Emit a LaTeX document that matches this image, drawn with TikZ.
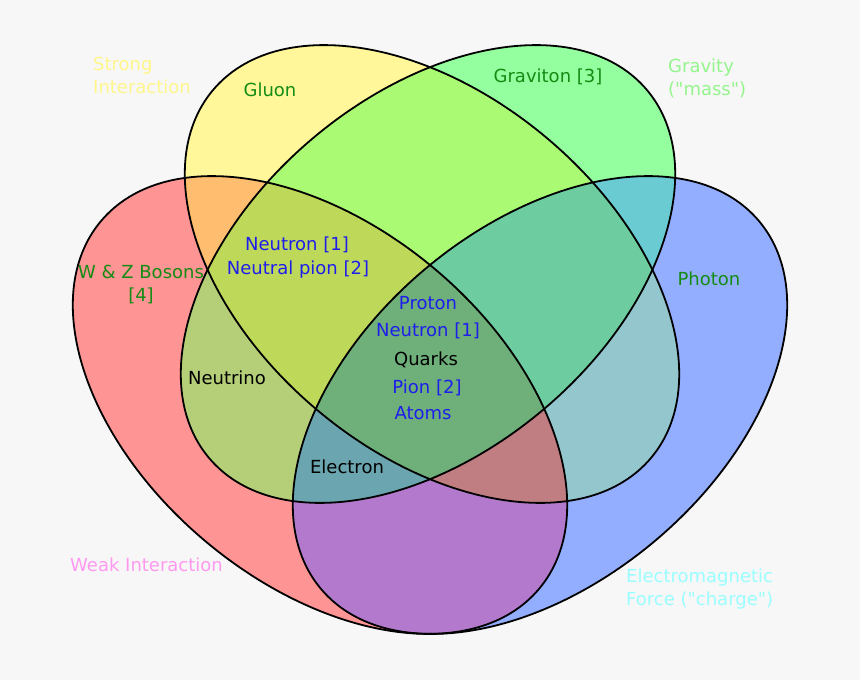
\documentclass[tikz,border=0pt]{standalone}
\usepackage{fontspec}
\setmainfont{DejaVu Sans}
\usetikzlibrary{positioning}

% region colours
\definecolor{bgcol}{HTML}{F7F7F7}
\definecolor{Scol}{HTML}{FFF799}
\definecolor{Gcol}{HTML}{94FF9E}
\definecolor{Wcol}{HTML}{FF9494}
\definecolor{Ecol}{HTML}{94AEFF}
\definecolor{SGcol}{HTML}{AAFA73}
\definecolor{SWcol}{HTML}{FFBD70}
\definecolor{SEcol}{HTML}{94C6CE}
\definecolor{GWcol}{HTML}{B5CF78}
\definecolor{GEcol}{HTML}{6ACCD2}
\definecolor{WEcol}{HTML}{B379CC}
\definecolor{SGWcol}{HTML}{BED85A}
\definecolor{SGEcol}{HTML}{6ECDA0}
\definecolor{SWEcol}{HTML}{C07D82}
\definecolor{GWEcol}{HTML}{6AA5B0}
\definecolor{SGWEcol}{HTML}{6EAF7A}
% text colours
\definecolor{bosoncol}{HTML}{148C14}
\definecolor{hadroncol}{HTML}{1E1EEB}
\definecolor{strongtxt}{HTML}{FFF68A}
\definecolor{gravtxt}{HTML}{94F58C}
\definecolor{weaktxt}{HTML}{FF99F0}
\definecolor{emtxt}{HTML}{99FFFF}

\tikzset{
  setedge/.style={draw=black, line width=1.8pt},
  member/.style={font=\fontsize{18}{23}\selectfont, inner sep=0pt},
  setname/.style={member, align=left, anchor=west},
  boson/.style={member, text=bosoncol},
  hadron/.style={member, text=hadroncol},
  lepton/.style={member, text=black},
}

% the four forces as ellipses
\newcommand{\strongset}[1]{\path[#1, rotate around={-40:(432,274)}] (432,274) ellipse [x radius=286, y radius=178];}
\newcommand{\gravset}[1]{\path[#1, rotate around={40:(428,274)}] (428,274) ellipse [x radius=286, y radius=178];}
\newcommand{\weakset}[1]{\path[#1, rotate around={-40:(320,405)}] (320,405) ellipse [x radius=286, y radius=178];}
\newcommand{\emset}[1]{\path[#1, rotate around={40:(540,405)}] (540,405) ellipse [x radius=286, y radius=178];}
\newcommand{\paint}[1]{\fill[#1] (0,0) rectangle (860,680);}

\begin{document}
\begin{tikzpicture}[x=1pt, y=-1pt]
  \fill[bgcol] (0,0) rectangle (860,680);
  \useasboundingbox (0,0) rectangle (860,680);

  % single sets
  \strongset{fill=Scol}
  \gravset{fill=Gcol}
  \weakset{fill=Wcol}
  \emset{fill=Ecol}

  % pairs
  \begin{scope} \strongset{clip} \gravset{clip} \paint{SGcol} \end{scope}
  \begin{scope} \strongset{clip} \weakset{clip} \paint{SWcol} \end{scope}
  \begin{scope} \strongset{clip} \emset{clip} \paint{SEcol} \end{scope}
  \begin{scope} \gravset{clip} \weakset{clip} \paint{GWcol} \end{scope}
  \begin{scope} \gravset{clip} \emset{clip} \paint{GEcol} \end{scope}
  \begin{scope} \weakset{clip} \emset{clip} \paint{WEcol} \end{scope}

  % triples
  \begin{scope} \strongset{clip} \gravset{clip} \weakset{clip} \paint{SGWcol} \end{scope}
  \begin{scope} \strongset{clip} \gravset{clip} \emset{clip} \paint{SGEcol} \end{scope}
  \begin{scope} \strongset{clip} \weakset{clip} \emset{clip} \paint{SWEcol} \end{scope}
  \begin{scope} \gravset{clip} \weakset{clip} \emset{clip} \paint{GWEcol} \end{scope}

  % all four
  \begin{scope} \strongset{clip} \gravset{clip} \weakset{clip} \emset{clip} \paint{SGWEcol} \end{scope}

  % outlines
  \weakset{setedge}
  \emset{setedge}
  \strongset{setedge}
  \gravset{setedge}

  % set names
  \node[setname, text=strongtxt] (strong) at (93,75) {Strong\\Interaction};
  \node[setname, text=gravtxt] (gravity) at (668,78) {Gravity\\(\textquotedbl mass\textquotedbl)};
  \node[setname, text=weaktxt] (weak) at (70,565) {Weak Interaction};
  \node[setname, text=emtxt] (em) at (626,589) {Electromagnetic\\Force (\textquotedbl charge\textquotedbl)};

  % particles
  \node[boson] (gluon) at (270,90) {Gluon};
  \node[boson] (graviton) at (548,77) {Graviton [3]};
  \node[boson, align=center] (wz) at (141,285) {W \& Z Bosons\\{}[4]};
  \node[boson] (photon) at (709,279) {Photon};
  \node[hadron] (neutron) at (297,245) {Neutron [1]};
  \node[hadron] (neutralpion) at (298,270) {Neutral pion [2]};
  \node[hadron] (proton) at (428,303) {Proton};
  \node[hadron] (neutronc) at (428,331) {Neutron [1]};
  \node[lepton] (quarks) at (426,360) {Quarks};
  \node[hadron] (pion) at (427,388) {Pion [2]};
  \node[hadron] (atoms) at (423,413) {Atoms};
  \node[lepton] (neutrino) at (227,378) {Neutrino};
  \node[lepton] (electron) at (347,467) {Electron};
\end{tikzpicture}
\end{document}
